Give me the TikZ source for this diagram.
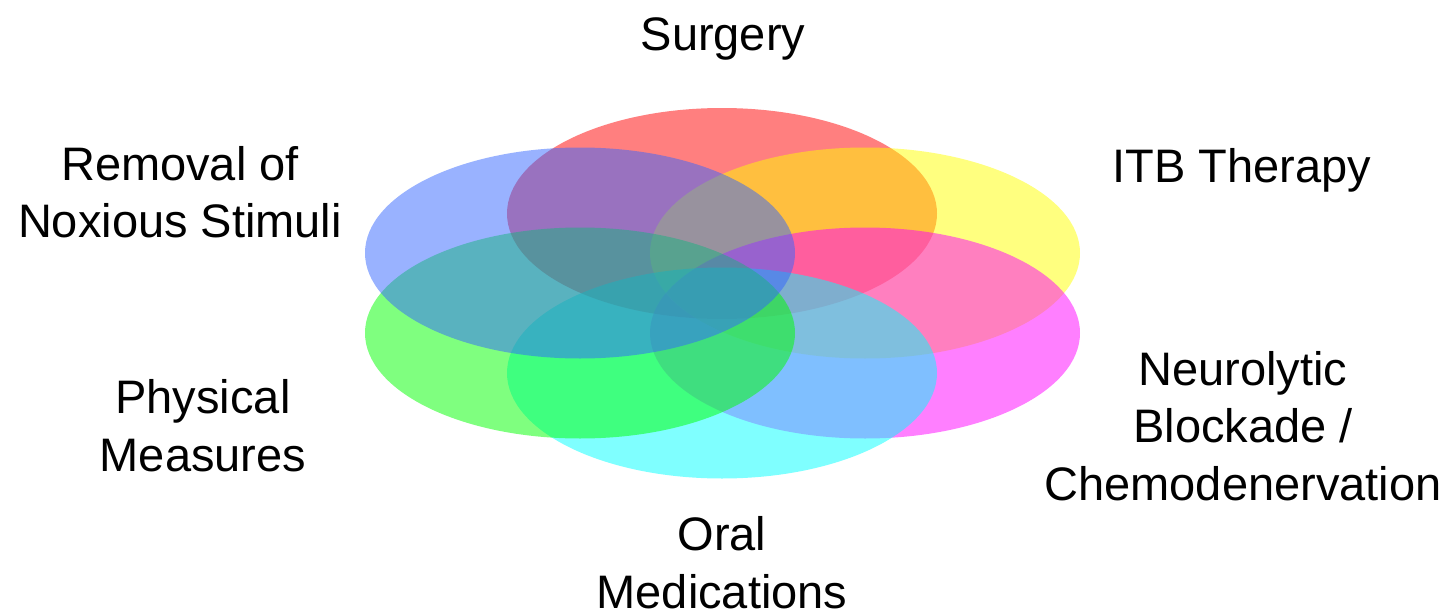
\documentclass[tikz,border=0pt]{standalone}
\usepackage{fontspec}
\setmainfont{Liberation Sans}
\usetikzlibrary{shapes.geometric}
\definecolor{cRed}{HTML}{FF0000}
\definecolor{cYellow}{HTML}{FFFF00}
\definecolor{cMagenta}{HTML}{FF00FF}
\definecolor{cCyan}{HTML}{00FFFF}
\definecolor{cGreen}{HTML}{00FF00}
\definecolor{cBlue}{HTML}{3366FF}
\begin{document}
\begin{tikzpicture}[x=1pt,y=-1pt,
  petal/.style={ellipse, draw=none, fill=#1, fill opacity=0.5, inner sep=0pt,
    minimum width=430pt, minimum height=211pt},
  lbl/.style={align=center, inner sep=0pt, anchor=base,
    font=\fontsize{47}{57.5}\selectfont}]
\useasboundingbox (0,0) rectangle (1449,613);
\node[petal=cRed]     (surg) at (722,213.5) {};
\node[petal=cYellow]  (itb)  at (865,253) {};
\node[petal=cMagenta] (neur) at (865,333) {};
\node[petal=cCyan]    (oral) at (722,373) {};
\node[petal=cGreen]   (phys) at (580,333) {};
\node[petal=cBlue]    (remo) at (580,253) {};
\node[lbl] (tsurg) at (723,50) {Surgery};
\node[lbl] (titb)  at (1242,182) {ITB Therapy};
\node[lbl] (tremo) at (180,237.5) {Removal of\\Noxious Stimuli};
\node[lbl] (tphys) at (203,471) {Physical\\Measures};
\node[lbl] (tneur) at (1243,500) {Neurolytic\\Blockade /\\Chemodenervation};
\node[lbl] (toral) at (722,608) {Oral\\Medications};
\end{tikzpicture}
\end{document}
